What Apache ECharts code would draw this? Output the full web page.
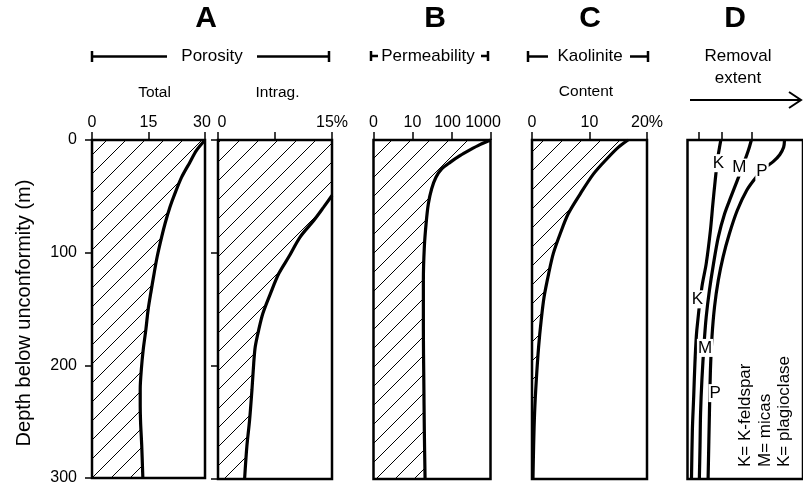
<!DOCTYPE html>
<html>
<head>
<meta charset="utf-8">
<script src="https://cdn.jsdelivr.net/npm/echarts@6/dist/echarts.min.js"></script>
<style>html,body{margin:0;padding:0;background:#fff;}#chart{width:803px;height:486px;}</style>
</head>
<body>
<div id="chart"></div>
<script>
// ---- Data ----
// Panel A: total porosity (%) vs depth (m)
const totalDepth = [0, 9.4, 19.7, 33, 47.6, 59.5, 74.1, 86, 103.6, 118.2, 135.9, 150.6, 168.3, 186, 203.6, 221.2, 236, 250.6, 271.2, 300];
const totalPor   = [30, 27.7, 26, 23.8, 22, 20.7, 19.4, 18.5, 17.3, 16.5, 15.6, 14.9, 14.3, 13.6, 13.1, 12.8, 12.8, 12.9, 13.2, 13.5];
// Panel A: intragranular porosity (%)
const intraDepth = [49.1, 59.4, 71.2, 85.9, 103.6, 118.2, 135.9, 153.5, 168.3, 183, 197.6, 221, 247.7, 271, 300];
const intraPor   = [15, 13.9, 12.6, 10.8, 9.3, 8.0, 6.9, 5.9, 5.35, 4.9, 4.7, 4.47, 4.16, 3.8, 3.5];
// Panel B: permeability (log scale; axis "0" = 1)
const permDepth = [0, 4.1, 8.8, 13.9, 19.8, 25.6, 33, 43.2, 56.5, 74.1, 94.8, 124.2, 168.3, 212.4, 256.6, 300];
const permVal   = [1000, 536, 297, 165, 92, 56, 40, 31, 25.5, 22.3, 20.1, 19, 19, 19.5, 20.1, 21];
// Panel C: kaolinite content (%)
const kaoDepth = [0, 6.5, 16.8, 30, 47.6, 65.3, 83, 100.6, 118.2, 138.9, 159.4, 183, 212.4, 241.8, 271.2, 300];
const kaoVal   = [16.7, 15, 13, 10.7, 8.4, 6.3, 4.9, 3.7, 2.9, 2.1, 1.6, 1.15, 0.75, 0.45, 0.28, 0.17];
// Panel D: removal extent (relative units 0-100)
const kDepth = [0, 16.8, 35.9, 56.5, 80, 109.4, 130, 168.3, 197.6, 227, 256.6, 300];
const kVal   = [30.1, 27.2, 25, 22.9, 20.7, 16.9, 13, 8.4, 6.7, 5.6, 4.4, 3.6];
const mDepth = [0, 9.4, 21.2, 35.9, 50.6, 65.3, 85.9, 109.4, 133, 156.5, 180, 212.4, 241.8, 271.2, 300];
const mVal   = [57.7, 54.9, 50.6, 44.9, 39.1, 33.5, 27.8, 23.5, 19.8, 16.9, 15, 13, 11.8, 11.3, 10.7];
const pDepth = [0, 6.5, 13, 18.9, 24.2, 33, 44.7, 62.4, 83, 103.6, 124.2, 147.7, 174.2, 203.6, 241.8, 300];
const pVal   = [87.6, 86.8, 83.3, 77.6, 70.5, 62, 53.4, 44.9, 37.8, 32.1, 27.8, 24.4, 22.1, 20.7, 19.8, 18.6];
// Curve labels in panel D: [value, depth, name]
const curveLabels = [[28, 20.5, 'K'], [46.8, 24.4, 'M'], [67.3, 28, 'P'], [9, 141, 'K'], [15.8, 184, 'M'], [24.9, 224, 'P']];
// Tick positions on panel D top axis
const dTicks = [9.8, 30.6, 58.3];

const FONT = '"Liberation Sans", Arial, Helvetica, sans-serif';

// hatch pattern
const hatch = document.createElement('canvas');
hatch.width = 19; hatch.height = 19;
(function(){
  const c = hatch.getContext('2d');
  c.strokeStyle = '#000'; c.lineWidth = 1;
  c.beginPath();
  [-19, 0, 19].forEach(k => { c.moveTo(k, 19); c.lineTo(k + 19, 0); });
  c.stroke();
})();

const chart = echarts.init(document.getElementById('chart'), null, {renderer: 'canvas'});

const grids = [
  {left: 92, top: 140, width: 113, height: 339},
  {left: 218, top: 140, width: 114, height: 339},
  {left: 373.5, top: 140, width: 117, height: 339},
  {left: 532, top: 140, width: 115, height: 339},
  {left: 687.5, top: 140, width: 122, height: 339}
].map(g => Object.assign({show: true, borderColor: '#000', borderWidth: 2.5, backgroundColor: 'transparent', containLabel: false}, g));

const LBL = {color: '#000', fontSize: 16, fontFamily: FONT};
function lab(extra) { return Object.assign({show: true, margin: 9}, LBL, extra || {}); }
function xAx(idx, extra) {
  return Object.assign({
    gridIndex: idx, position: 'top', type: 'value',
    axisLine: {show: false},
    axisTick: {show: true, inside: false, length: 8, lineStyle: {color: '#000', width: 1.5}},
    axisLabel: lab(),
    splitLine: {show: false}, minorTick: {show: false}
  }, extra);
}
function yAx(idx, ticks, labels) {
  return {
    gridIndex: idx, type: 'value', inverse: true, min: 0, max: 300, interval: 100,
    axisLine: {show: false},
    axisTick: {show: ticks, inside: false, length: 7, lineStyle: {color: '#000', width: 1.5}},
    axisLabel: Object.assign({show: labels, margin: 15}, LBL),
    splitLine: {show: false}
  };
}

const xAxes = [
  xAx(0, {min: 0, max: 30, interval: 15, axisLabel: lab({
    formatter: v => v === 30 ? '{r|30}' : String(v),
    rich: {r: Object.assign({padding: [0, 6, 0, 0]}, LBL)}})}),
  xAx(1, {min: 0, max: 15, interval: 7.5, axisLabel: lab({
    formatter: v => v === 0 ? '{l|0}' : (v === 15 ? '15%' : ''),
    rich: {l: Object.assign({padding: [0, 0, 0, 8]}, LBL)}})}),
  xAx(2, {type: 'log', logBase: 10, min: 1, max: 1000, axisLabel: lab({
    formatter: v => {
      const r = Math.round(v);
      if (r === 1) return '0';
      if (r === 100) return '{a|100}';
      if (r === 1000) return '{b|1000}';
      return String(r);
    },
    rich: {a: Object.assign({padding: [0, 8, 0, 0]}, LBL), b: Object.assign({padding: [0, 15, 0, 0]}, LBL)}})}),
  xAx(3, {min: 0, max: 20, interval: 10, axisLabel: lab({formatter: v => v === 20 ? '20%' : String(v)})}),
  xAx(4, {min: 0, max: 104.3, axisLabel: {show: false}, axisTick: {show: true, inside: false, length: 8, customValues: dTicks, lineStyle: {color: '#000', width: 1.5}}})
];
const yAxes = [yAx(0, true, true), yAx(1, true, false), yAx(2, false, false), yAx(3, false, false), yAx(4, false, false)];

function hatchSeries(idx, vals, depths, xmin) {
  return {
    type: 'custom', xAxisIndex: idx, yAxisIndex: idx, z: 1, silent: true,
    data: [[xmin, 0]],
    renderItem: function (params, api) {
      const pts = [api.coord([xmin, 0]), api.coord([vals[0], 0])];
      for (let i = 0; i < vals.length; i++) pts.push(api.coord([vals[i], depths[i]]));
      pts.push(api.coord([xmin, 300]));
      return {type: 'polygon', shape: {points: pts}, style: {fill: {image: hatch, repeat: 'repeat'}, stroke: null}};
    }
  };
}
function curve(idx, vals, depths) {
  return {
    type: 'line', xAxisIndex: idx, yAxisIndex: idx, z: 3, symbol: 'none', smooth: 0.3, silent: true,
    lineStyle: {color: '#000', width: 3.2},
    data: depths.map((d, i) => [vals[i], d])
  };
}

const series = [
  hatchSeries(0, totalPor, totalDepth, 0),
  hatchSeries(1, intraPor, intraDepth, 0),
  hatchSeries(2, permVal, permDepth, 1),
  hatchSeries(3, kaoVal, kaoDepth, 0),
  curve(0, totalPor, totalDepth),
  curve(1, intraPor, intraDepth),
  curve(2, permVal, permDepth),
  curve(3, kaoVal, kaoDepth),
  curve(4, kVal, kDepth),
  curve(4, mVal, mDepth),
  curve(4, pVal, pDepth),
  {
    type: 'scatter', xAxisIndex: 4, yAxisIndex: 4, z: 5, symbolSize: 1, silent: true,
    itemStyle: {color: 'rgba(0,0,0,0)', opacity: 1},
    label: {show: true, position: 'inside', formatter: '{b}', color: '#000', fontSize: 17, fontFamily: FONT,
      backgroundColor: '#fff', padding: [1, 1, 0, 1], textBorderWidth: 0, opacity: 1},
    data: curveLabels.map(l => ({value: [l[0], l[1]], name: l[2]}))
  }
];

function txt(t, x, y, font, extra) {
  return Object.assign({type: 'text', x: x, y: y, z: 10, silent: true,
    style: {text: t, x: 0, y: 0, font: font, fill: '#000', textAlign: 'center', textVerticalAlign: 'middle', align: 'center', verticalAlign: 'middle'}}, extra || {});
}
function ln(x1, y1, x2, y2, w) {
  return {type: 'line', z: 10, silent: true, shape: {x1: x1, y1: y1, x2: x2, y2: y2}, style: {stroke: '#000', lineWidth: w || 2.5}};
}
const big = 'bold 30px ' + FONT;
const mid = '17px ' + FONT;
const sml = '15.5px ' + FONT;

const graphics = [
  txt('A', 206, 19, big), txt('B', 435, 19, big), txt('C', 590, 19, big), txt('D', 735, 19, big),
  txt('Porosity', 212, 56.5, mid),
  ln(92, 56.5, 167, 56.5), ln(257, 56.5, 329, 56.5), ln(92, 51, 92, 62), ln(329, 51, 329, 62),
  txt('Permeability', 428, 56, mid),
  ln(371, 56, 378, 56), ln(371, 51, 371, 61), ln(481, 56, 488, 56), ln(488, 51, 488, 61),
  txt('Kaolinite', 590, 56.5, mid),
  ln(528, 56.5, 548, 56.5), ln(630, 56.5, 648, 56.5), ln(528, 51, 528, 62), ln(648, 51, 648, 62),
  txt('Removal', 738, 56.5, mid), txt('extent', 738, 78.5, mid),
  ln(690, 100, 801, 100, 2),
  {type: 'polyline', z: 10, silent: true, shape: {points: [[789, 92], [801, 100], [789, 108]]}, style: {stroke: '#000', lineWidth: 2, fill: null}},
  txt('Total', 154.5, 93, sml), txt('Intrag.', 277.5, 93, sml), txt('Content', 586, 92, sml),
  txt('Depth below unconformity (m)', 24, 313, '20px ' + FONT, {rotation: Math.PI / 2}),
  {type: 'text', x: 765, y: 467, z: 10, silent: true, rotation: Math.PI / 2,
    style: {text: 'K= K-feldspar\nM= micas\nK= plagioclase', x: 0, y: 0, font: '17px ' + FONT, lineHeight: 19.5, fill: '#000',
      textAlign: 'left', textVerticalAlign: 'middle', align: 'left', verticalAlign: 'middle'}}
];

chart.setOption({
  animation: false,
  backgroundColor: '#fff',
  textStyle: {fontFamily: FONT},
  grid: grids,
  xAxis: xAxes,
  yAxis: yAxes,
  series: series,
  graphic: {elements: graphics}
});
</script>
</body>
</html>
